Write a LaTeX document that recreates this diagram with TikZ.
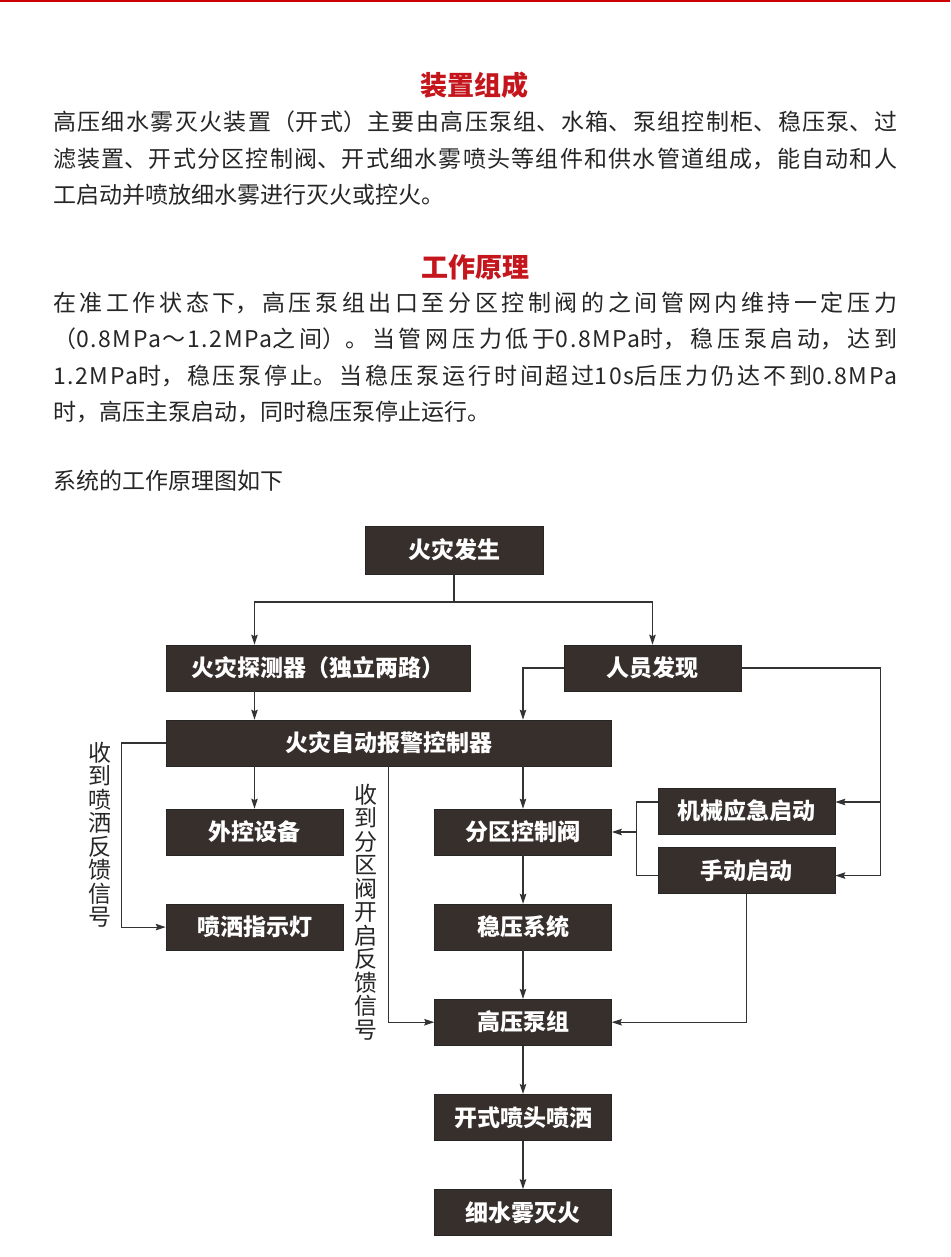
\documentclass[tikz,border=0pt]{standalone}
\usepackage{fontspec}
\usepackage{xcolor}
\usepackage{tikz}
\usetikzlibrary{arrows.meta}
\usetikzlibrary{positioning}

\setmainfont{Noto Sans CJK SC}
\XeTeXlinebreaklocale "zh"
\XeTeXlinebreakskip=0pt plus 2pt

\definecolor{topred}{HTML}{CC0000}
\definecolor{headred}{HTML}{C4161C}
\definecolor{boxfill}{HTML}{372F2C}
\definecolor{linegray}{HTML}{333333}
\definecolor{textgray}{HTML}{262626}

\newcommand\flowfont{\fontsize{23}{27}\selectfont\bfseries}
\newcommand\notefont{\fontsize{23}{23.5}\selectfont}
\newcommand\bodyfont{\fontsize{23}{36.5}\selectfont}
\newcommand\cnhead{\fontsize{27}{30}\selectfont\bfseries}
\newcommand\lat[1]{\mbox{\addfontfeature{LetterSpace=7}#1}}

\begin{document}
\begin{tikzpicture}[x=1pt,y=-1pt,>={Stealth[length=10pt,width=6.5pt,inset=1.5pt]},
                    node distance=48.5pt,
                    flow box/.style={rectangle,fill=boxfill,draw=black!85,line width=0.6pt,
                        text=white,minimum width=177pt,minimum height=46pt,inner sep=0pt,
                        font=\flowfont},
                    link/.style={draw=linegray,line width=1.1pt},
                    side note/.style={text=textgray,align=center,inner sep=0pt,font=\notefont}]

    \tikzset{
        title/.style={text=headred,inner sep=0pt,anchor=base,font=\cnhead},
        body/.style={text=textgray,inner sep=0pt,anchor=base west,text width=844pt,
            align=justify,font=\bodyfont}
    }

    % page
    \fill[white] (0,0) rectangle (950,1257);
    \useasboundingbox (0,0) rectangle (950,1257);
    \fill[topred] (0,0) rectangle (950,2.5);

    % text part
    \node[title] (headA) at (474.5,96) {装置组成};
    \node[body] (textA) at (53,131) {高压细水雾灭火装置（开式）主要由高压泵组、水箱、泵组控制柜、稳压泵、过\linebreak
        滤装置、开式分区控制阀、开式细水雾喷头等组件和供水管道组成，能自动和人\linebreak
        工启动并喷放细水雾进行灭火或控火。};
    \node[title] (headB) at (475,277) {工作原理};
    \node[body] (textB) at (53,311) {在准工作状态下，高压泵组出口至分区控制阀的之间管网内维持一定压力\linebreak
        （\lat{0.8MPa～1.2MPa}之间）。当管网压力低于\lat{0.8MPa}时，稳压泵启动，达到\linebreak
        \lat{1.2MPa}时，稳压泵停止。当稳压泵运行时间超过\lat{10s}后压力仍达不到\lat{0.8MPa}\linebreak
        时，高压主泵启动，同时稳压泵停止运行。};
    \node[body] (textC) at (53,489) {系统的工作原理图如下};

    % flow chart
    \node[flow box,minimum width=178pt,minimum height=48pt] (fire) at (454,550) {火灾发生};
    \node[flow box,minimum width=304pt] (detc) at (318,668) {火灾探测器（独立两路）};
    \node[flow box] (pers) at (652.5,668) {人员发现};
    \node[flow box,minimum width=445pt] (ctrl) at (388.5,743) {火灾自动报警控制器};
    \node[flow box] (extd) at (254.5,832) {外控设备};
    \node[flow box] (lamp) [below=of extd] {喷洒指示灯};
    \node[flow box] (valv) at (523,832) {分区控制阀};
    \node[flow box] (stab) [below=of valv] {稳压系统};
    \node[flow box] (pump) [below=of stab] {高压泵组};
    \node[flow box] (head) [below=of pump] {开式喷头喷洒};
    \node[flow box] (mist) [below=of head] {细水雾灭火};
    \node[flow box] (mech) at (746.5,811) {机械应急启动};
    \node[flow box] (hand) [below=13pt of mech] {手动启动};

    \node[side note] (fbsp) at (100,834.5) {收\\到\\喷\\洒\\反\\馈\\信\\号};
    \node[side note] (fbvl) at (366,912) {收\\到\\分\\区\\阀\\开\\启\\反\\馈\\信\\号};

    \coordinate (fork) at (454,602);
    \coordinate (mtap) at ([yshift=9pt]mech.east);
    \coordinate (htap) at ([yshift=-5pt]hand.east);
    \coordinate (mtpw) at ([yshift=9pt]mech.west);
    \coordinate (htpw) at ([yshift=-5pt]hand.west);

    \draw[link] (fire) -- (fork);
    \draw[link,->] (fork) -| (detc.north -| extd);
    \draw[link,->] (fork) -| (pers.north);
    \draw[link,->] (detc.south -| extd) -- (ctrl.north -| extd);
    \draw[link,->] (pers.west) -| (ctrl.north -| valv);
    \draw[link,->] (pers.east) -| ([xshift=45pt]htap) -- (htap);
    \draw[link,->] ([xshift=45pt]mtap) -- (mtap);
    \draw[link] (mtpw) -- ++(-21,0) |- (htpw);
    \draw[link,->] ([xshift=-21pt]mtpw |- valv.east) -- (valv.east);
    \draw[link,->] (hand.south) |- (pump.east);
    \draw[link,->] (ctrl.west) -- ++(-44,0) |- (lamp.west);
    \draw[link,->] (ctrl.south) |- (pump.west);
    \draw[link,->] (ctrl.south -| extd) -- (extd.north);
    \draw[link,->] (ctrl.south -| valv) -- (valv.north);
    \draw[link,->] (valv) -- (stab);
    \draw[link,->] (stab) -- (pump);
    \draw[link,->] (pump) -- (head);
    \draw[link,->] (head) -- (mist);
\end{tikzpicture}
\end{document}
